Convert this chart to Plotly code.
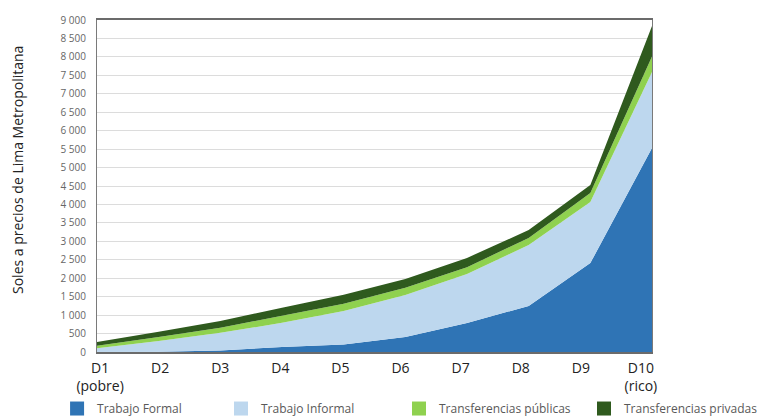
import plotly.graph_objects as go

deciles = ["D1<br>(pobre)", "D2", "D3", "D4", "D5", "D6", "D7", "D8", "D9", "D10<br>(rico)"]
trabajo_formal = [5, 10, 40, 135, 200, 405, 785, 1250, 2410, 5530]
trabajo_informal = [95, 290, 480, 655, 910, 1140, 1330, 1650, 1655, 2060]
transf_publicas = [70, 110, 140, 190, 200, 195, 185, 190, 245, 420]
transf_privadas = [100, 140, 180, 220, 240, 240, 250, 216, 215, 830]

series_names = ["Trabajo Formal", "Trabajo Informal", "Transferencias públicas", "Transferencias privadas"]
series_values = [trabajo_formal, trabajo_informal, transf_publicas, transf_privadas]
colors = ["#2f74b5", "#bdd7ee", "#8fd14f", "#2f5a1e"]
legend_ids = ["legend", "legend2", "legend3", "legend4"]
legend_x = [0.075, 0.2904, 0.5243, 0.7674]

y_ticks = list(range(0, 9001, 500))
y_tick_text = [f"{v:,}".replace(",", " ") for v in y_ticks]

x_pos = list(range(len(deciles)))
label_pos = [0.05 + i * (8.77 / 9) for i in x_pos]

fig = go.Figure()
for name, vals, col, lid in zip(series_names, series_values, colors, legend_ids):
    fig.add_trace(go.Scatter(
        x=x_pos, y=vals, name=name, stackgroup="one",
        mode="none", fillcolor=col, line=dict(width=0),
        showlegend=False, hoverinfo="x+y+name",
    ))
    fig.add_trace(go.Scatter(x=[None], y=[None], name=name, mode="markers",
                             marker=dict(symbol="square", size=14, color=col),
                             showlegend=True, legend=lid))

legend_common = dict(
    orientation="h", xref="container", xanchor="left",
    yref="container", y=0.025, yanchor="middle",
    font=dict(size=12, color="#595959"), itemwidth=30, bgcolor="rgba(0,0,0,0)",
)
legend_layout = {lid: dict(legend_common, x=lx) for lid, lx in zip(legend_ids, legend_x)}

fig.update_layout(
    width=761, height=419,
    margin=dict(l=97, r=109, t=20, b=67, autoexpand=False),
    paper_bgcolor="white", plot_bgcolor="white",
    font=dict(family="Open Sans, sans-serif", color="#595959"),
    xaxis=dict(
        range=[0, 9], tickmode="array", tickvals=label_pos, ticktext=deciles,
        showgrid=False, zeroline=False, showline=True, linecolor="#6b6b6b", linewidth=2,
        mirror=True, ticks="outside", ticklen=2, tickcolor="rgba(0,0,0,0)",
        tickfont=dict(size=14, color="#222222"), automargin=False,
    ),
    yaxis=dict(
        range=[0, 9000], tickmode="array", tickvals=y_ticks, ticktext=y_tick_text,
        showgrid=True, gridcolor="#dcdcdc", gridwidth=1, zeroline=False,
        showline=True, linecolor="#7a7a7a", linewidth=1, mirror=True,
        ticks="outside", ticklen=8, tickcolor="rgba(0,0,0,0)",
        tickfont=dict(size=10, color="#666666"), automargin=False,
    ),
    annotations=[dict(
        text="Soles a precios de Lima Metropolitana", textangle=-90,
        xref="paper", yref="paper", x=(18 - 97) / 555, y=(352 - 170) / 332,
        xanchor="center", yanchor="middle", showarrow=False,
        font=dict(size=14, color="#222222"),
    )],
    **legend_layout,
)

fig.write_html("out.html")
